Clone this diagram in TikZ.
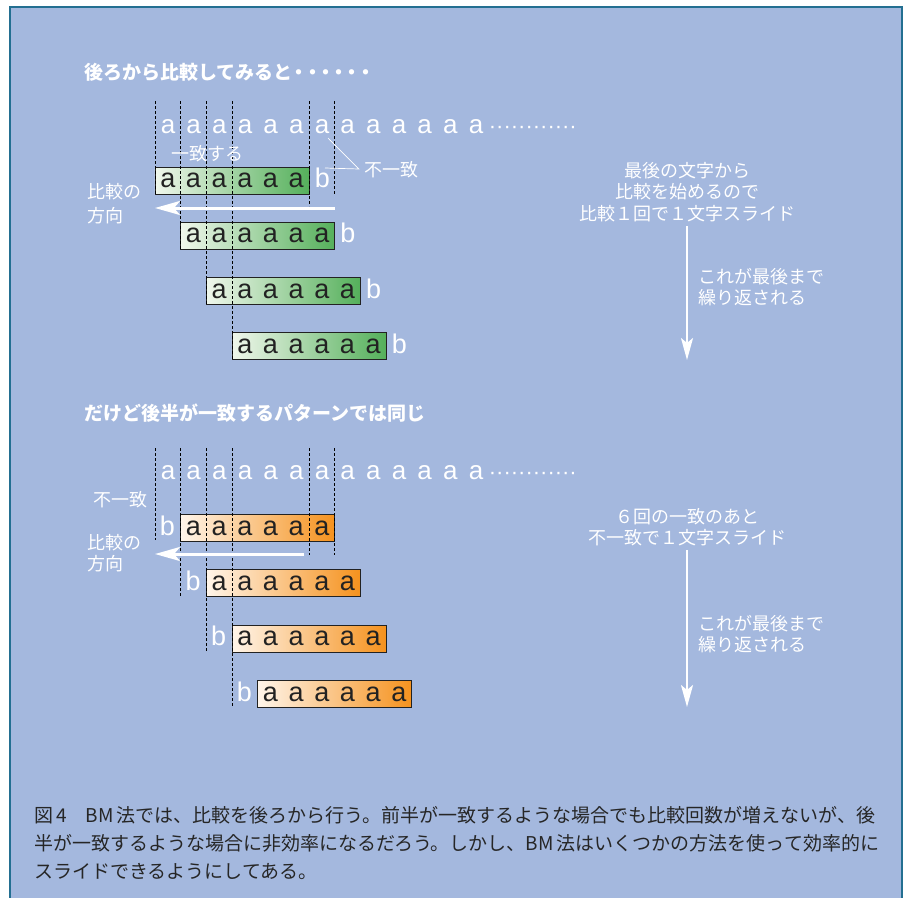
\documentclass[tikz,border=0pt]{standalone}
\usepackage{fontspec}
\usetikzlibrary{arrows.meta,calc}
\setmainfont{Liberation Sans}
\newfontfamily\jp{Noto Sans CJK JP}
\newfontfamily\lat{Liberation Sans}
\definecolor{bgblue}{HTML}{A4B8DE}
\definecolor{framec}{HTML}{236F91}
\definecolor{gL}{HTML}{F0F7EC}
\definecolor{gR}{HTML}{55B05B}
\definecolor{oL}{HTML}{FFF5EA}
\definecolor{oR}{HTML}{F5921E}
\definecolor{ink}{HTML}{222222}
\definecolor{captxt}{HTML}{262626}
\newcommand\acell{\makebox[25.67pt]{a}}
\newcommand\sixa{\acell\acell\acell\acell\acell\acell}
\newcommand\rowdots{{\fontsize{22}{22}\selectfont ············}}
\newcommand\jdot{\kern-2.85pt・\kern-2.85pt}
\tikzset{
  strrow/.style={anchor=west, inner sep=0pt, text=white, font=\fontsize{26}{26}\lat},
  gbox/.style={draw=ink, line width=0.9pt, left color=gL, right color=gR,
    minimum width=154pt, minimum height=27pt, inner sep=0pt, text=ink, font=\fontsize{27}{27}\lat},
  obox/.style={gbox, left color=oL, right color=oR},
  bl/.style={anchor=base, inner sep=0pt, text=white, font=\fontsize{27}{27}\lat},
  dline/.style={black, line width=0.9pt, dash pattern=on 3pt off 2pt},
  pline/.style={white, line width=0.7pt},
  warrow/.style={white, line width=3pt, -{Stealth[length=25pt,width=14pt,inset=6pt]}},
  darrow/.style={white, line width=2.4pt, -{Stealth[length=22pt,width=12pt,inset=5pt]}},
  lbl/.style={inner sep=0pt, text=white, font=\fontsize{18}{18}\jp},
  ttl/.style={anchor=west, inner sep=0pt, text=white, font=\fontsize{19}{19}\jp\bfseries},
  rtxt/.style={align=center, inner sep=2pt, text=white, font=\fontsize{18}{21.5}\jp},
  ltxt/.style={align=left, anchor=west, inner sep=0pt, text=white, font=\fontsize{18}{20.5}\jp},
  captn/.style={anchor=west, inner sep=0pt, text=captxt, font=\fontsize{19}{19}\jp},
}
\begin{document}
\begin{tikzpicture}[x=1pt,y=-1pt]
\useasboundingbox (0,0) rectangle (907,897);
\fill[white] (0,0) rectangle (907,897);
\fill[bgblue] (10,7) rectangle (902,905);
\draw[framec, line width=2pt] (10,905) -- (10,7) -- (902,7) -- (902,905);

% ---------- section 1 ----------
\node[ttl] (t1) at (84,72) {後ろから比較してみると\jdot\jdot\jdot\jdot\jdot\jdot};
\node[strrow] (s1) at (155,127) {\sixa\sixa\acell\rowdots};

\node[gbox] (g1) at (232,180.5) {\sixa};
\node[gbox] (g2) at (257.67,235.8) {\sixa};
\node[gbox] (g3) at (283.33,291.1) {\sixa};
\node[gbox] (g4) at (309,346.4) {\sixa};
\foreach \i in {1,...,4}
  \node[bl] (gb\i) at ($(g\i.east)+(12.83,7.1)$) {b};

\foreach \x/\e in {155/194, 180.67/250, 206.33/305, 232/360, 309/206, 334.67/194}
  \draw[dline] (\x,101) -- (\x,\e);

\node[lbl] (m1) at (207,154) {一致する};
\node[lbl] (n1) at (391,170) {不一致};
\coordinate (p1) at (328,138);
\coordinate (p2) at (325,168);
\draw[pline] (p1) -- ([xshift=-5pt,yshift=1pt]n1.west) -- (p2);

\coordinate (a1s) at (335,208);
\coordinate (a1e) at (155,208);
\draw[warrow] (a1s) -- (a1e);
\node[lbl, anchor=west] (d1) at (87,192) {比較の};
\node[lbl, anchor=west] (d2) at (87,216) {方向};

\node[rtxt] (r1) at (687,192) {最後の文字から\\比較を始めるので\\比較１回で１文字スライド};
\coordinate (v1) at (687,360);
\draw[darrow, shorten <=2pt] (r1.south) -- (v1);
\node[ltxt] (r2) at (698,287) {これが最後まで\\繰り返される};

% ---------- section 2 ----------
\node[ttl] (t2) at (84,413) {だけど後半が一致するパターンでは同じ};
\node[strrow] (s2) at (155,473) {\sixa\sixa\acell\rowdots};

\node[obox] (o1) at (257.67,528) {\sixa};
\node[obox] (o2) at (283.33,583.3) {\sixa};
\node[obox] (o3) at (309,638.6) {\sixa};
\node[obox] (o4) at (334.67,693.9) {\sixa};
\foreach \i in {1,...,4}
  \node[bl] (ob\i) at ($(o\i.west)+(-12.83,7.1)$) {b};

\foreach \x/\e in {155/540, 180.67/597, 206.33/652, 232/707, 309/555, 334.67/555}
  \draw[dline] (\x,448) -- (\x,\e);

\node[lbl] (n2) at (120,500) {不一致};
\coordinate (a2s) at (304,554);
\coordinate (a2e) at (155,554);
\draw[warrow] (a2s) -- (a2e);
\node[lbl, anchor=west] (d3) at (87,543) {比較の};
\node[lbl, anchor=west] (d4) at (87,564) {方向};

\node[rtxt] (r3) at (687,527) {６回の一致のあと\\不一致で１文字スライド};
\coordinate (v2) at (687,707);
\draw[darrow, shorten <=2pt] (r3.south) -- (v2);
\node[ltxt] (r4) at (698,634) {これが最後まで\\繰り返される};

% ---------- caption ----------
\node[captn] (c1) at (34,815) {図\,4　BM\,法では、比較を後ろから行う。前半が一致するような場合でも比較回数が増えないが、後};
\node[captn] (c2) at (34,843) {半が一致するような場合に非効率になるだろう。しかし、BM\,法はいくつかの方法を使って効率的に};
\node[captn] (c3) at (34,871) {スライドできるようにしてある。};
\end{tikzpicture}
\end{document}
